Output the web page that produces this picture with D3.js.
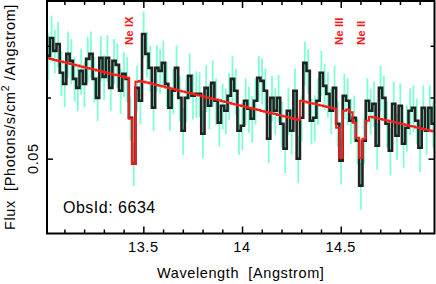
<!DOCTYPE html>
<html>
<head>
<meta charset="utf-8">
<script src="https://cdn.jsdelivr.net/npm/d3@7"></script>
<style>
body { margin: 0; background: #fff; }
svg { display: block; font-family: "Liberation Sans", Arial, sans-serif; }
svg text { white-space: pre; }
</style>
</head>
<body>
<div id="chart"></div>
<script>
// spectrum binning (Angstrom)
const binStart = 13.01;
const binWidth = 1 / 60;

// measured flux per bin
const flux = [
  0.06792, 0.07166, 0.06894, 0.07039, 0.06458, 0.06249, 0.06833, 0.06692, 0.06343, 0.06175,
  0.06496, 0.06249, 0.06732, 0.06833, 0.06343, 0.05994, 0.06752, 0.06381, 0.06752, 0.06175,
  0.06692, 0.06613, 0.06121, 0.06438, 0.06343, 0.05648, 0.04926, 0.06175, 0.05942, 0.07252,
  0.06833, 0.06554, 0.05819, 0.06554, 0.06496, 0.06652, 0.06249, 0.05819, 0.06121, 0.06554,
  0.05994, 0.05434, 0.05994, 0.06400, 0.06030, 0.06066, 0.06066, 0.05386, 0.06175, 0.05854,
  0.06268, 0.05942, 0.05565, 0.05854, 0.05767, 0.06030, 0.06343, 0.06121, 0.05434, 0.05515,
  0.05942, 0.05802, 0.05631, 0.05942, 0.06362, 0.06305, 0.06121, 0.05306, 0.05994, 0.05767,
  0.05994, 0.05548, 0.05150, 0.05767, 0.05434, 0.06121, 0.05000, 0.05648, 0.06652, 0.06496,
  0.05598, 0.05648, 0.05942, 0.06458, 0.06212, 0.06066, 0.05767, 0.06175, 0.05548, 0.04970,
  0.06030, 0.05942, 0.05598, 0.05648, 0.05275, 0.04614, 0.05275, 0.05942, 0.05767, 0.05889,
  0.05197, 0.06175, 0.05994, 0.05548, 0.05120, 0.05889, 0.05354, 0.05854, 0.05228, 0.05483,
  0.05767, 0.05819, 0.05598, 0.05166, 0.05819, 0.05434, 0.05819, 0.05548
];

// 1-sigma errors per bin
const fluxErr = [
  0.0047, 0.0049, 0.0045, 0.0048, 0.0043, 0.0042, 0.0047, 0.0045, 0.0042, 0.0041,
  0.0044, 0.0042, 0.0046, 0.0047, 0.0043, 0.0040, 0.0046, 0.0043, 0.0047, 0.0041,
  0.0045, 0.0044, 0.0041, 0.0043, 0.0043, 0.0037, 0.0032, 0.0042, 0.0040, 0.0050,
  0.0047, 0.0044, 0.0039, 0.0045, 0.0043, 0.0046, 0.0042, 0.0039, 0.0041, 0.0045,
  0.0041, 0.0038, 0.0042, 0.0044, 0.0041, 0.0042, 0.0041, 0.0038, 0.0043, 0.0040,
  0.0043, 0.0041, 0.0038, 0.0040, 0.0039, 0.0042, 0.0044, 0.0042, 0.0038, 0.0039,
  0.0041, 0.0040, 0.0039, 0.0041, 0.0043, 0.0043, 0.0042, 0.0037, 0.0041, 0.0040,
  0.0042, 0.0038, 0.0036, 0.0040, 0.0037, 0.0042, 0.0035, 0.0039, 0.0044, 0.0043,
  0.0038, 0.0039, 0.0041, 0.0044, 0.0043, 0.0041, 0.0039, 0.0042, 0.0038, 0.0034,
  0.0041, 0.0041, 0.0038, 0.0039, 0.0036, 0.0032, 0.0036, 0.0041, 0.0039, 0.0040,
  0.0036, 0.0042, 0.0041, 0.0038, 0.0036, 0.0040, 0.0037, 0.0040, 0.0036, 0.0038,
  0.0040, 0.0040, 0.0038, 0.0036, 0.0040, 0.0037, 0.0040, 0.0038
];

// fitted model per bin
const model = [
  0.06744, 0.06728, 0.06712, 0.06695, 0.06679, 0.06663, 0.06647, 0.06631, 0.06615, 0.06599,
  0.06583, 0.06567, 0.06551, 0.06536, 0.06520, 0.06504, 0.06489, 0.06473, 0.06457, 0.06442,
  0.06426, 0.06411, 0.06395, 0.06380, 0.06365, 0.05631, 0.04926, 0.06290, 0.06304, 0.06288,
  0.06273, 0.06258, 0.06243, 0.06228, 0.06213, 0.06198, 0.06183, 0.06168, 0.06153, 0.06138,
  0.06123, 0.06109, 0.06094, 0.06079, 0.06065, 0.06050, 0.06035, 0.06021, 0.06006, 0.05992,
  0.05977, 0.05963, 0.05949, 0.05934, 0.05920, 0.05906, 0.05891, 0.05877, 0.05863, 0.05849,
  0.05835, 0.05821, 0.05807, 0.05793, 0.05779, 0.05765, 0.05751, 0.05737, 0.05723, 0.05710,
  0.05696, 0.05682, 0.05668, 0.05655, 0.05641, 0.05627, 0.05614, 0.05940, 0.05927, 0.05913,
  0.05900, 0.05887, 0.05873, 0.05860, 0.05847, 0.05834, 0.05820, 0.05807, 0.05483, 0.05014,
  0.05767, 0.05790, 0.05740, 0.05565, 0.05322, 0.05014, 0.05306, 0.05598, 0.05664, 0.05652,
  0.05639, 0.05626, 0.05614, 0.05601, 0.05588, 0.05576, 0.05563, 0.05551, 0.05538, 0.05526,
  0.05513, 0.05501, 0.05488, 0.05476, 0.05463, 0.05451, 0.05439, 0.05426
];

const lineNames = ["Ne IX", "Ne III", "Ne II"];
const lineWaves = [13.447, 14.51, 14.625];

const xMajor = [13.5, 14, 14.5];
const xMinor = [13.1, 13.2, 13.3, 13.4, 13.6, 13.7, 13.8, 13.9, 14.1, 14.2, 14.3, 14.4, 14.6, 14.7, 14.8, 14.9];
const yMajor = [0.05];
const yMinor = [0.06, 0.07];

const obsLabel = "ObsId: 6634";
const xTitle = "Wavelength  [Angstrom]";

const width = 436, height = 284;
const frame = { left: 47, right: 434.5, top: 1, bottom: 233.5 };

const svg = d3.select("#chart").append("svg")
    .attr("width", width)
    .attr("height", height);

const x = d3.scaleLinear().domain([13.012, 14.975]).range([frame.left, frame.right]);
const y = d3.scaleLog().domain([0.04, 0.08]).range([frame.bottom, frame.top]);

svg.append("clipPath").attr("id", "plot-clip")
  .append("rect")
    .attr("x", frame.left).attr("y", frame.top)
    .attr("width", frame.right - frame.left)
    .attr("height", frame.bottom - frame.top);

const plot = svg.append("g").attr("clip-path", "url(#plot-clip)");

const bins = flux.map((v, i) => ({
    lo: binStart + i * binWidth,
    mid: binStart + (i + 0.5) * binWidth,
    v: v,
    err: fluxErr[i],
    m: model[i]
}));

// error bars
plot.selectAll(".err").data(bins).enter().append("line")
    .attr("class", "err")
    .attr("x1", d => x(d.mid)).attr("x2", d => x(d.mid))
    .attr("y1", d => y(d.v - d.err)).attr("y2", d => y(d.v + d.err))
    .attr("stroke", "#7fffd4")
    .attr("stroke-width", 1.8);

// step histogram helper
function stepPoints(key) {
    const pts = bins.map(d => [x(d.lo), y(d[key])]);
    const last = bins[bins.length - 1];
    pts.push([x(last.lo + binWidth), y(last[key])]);
    return pts;
}
const step = d3.line().curve(d3.curveStepAfter);

plot.append("path")
    .attr("d", step(stepPoints("v")))
    .attr("fill", "none")
    .attr("stroke", "#222")
    .attr("stroke-width", 2.6);

plot.append("path")
    .attr("d", step(stepPoints("m")))
    .attr("fill", "none")
    .attr("stroke", "#ff1a1a")
    .attr("stroke-width", 2);

// frame
svg.append("rect")
    .attr("x", frame.left).attr("y", frame.top)
    .attr("width", frame.right - frame.left)
    .attr("height", frame.bottom - frame.top)
    .attr("fill", "none")
    .attr("stroke", "#000")
    .attr("stroke-width", 2);

// ticks (inward, on all four sides)
function tickAxis(axis, values, size, tx, ty) {
    const g = svg.append("g")
        .attr("transform", `translate(${tx},${ty})`)
        .call(axis.tickValues(values).tickSize(-size).tickFormat(""));
    g.select(".domain").remove();
    g.selectAll(".tick line").attr("stroke", "#000").attr("stroke-width", 1.5);
}
tickAxis(d3.axisBottom(x), xMinor, 4, 0, frame.bottom);
tickAxis(d3.axisBottom(x), xMajor, 7, 0, frame.bottom);
tickAxis(d3.axisTop(x), xMinor, 4, 0, frame.top);
tickAxis(d3.axisTop(x), xMajor, 7, 0, frame.top);
tickAxis(d3.axisLeft(y), yMinor, 4, frame.left, 0);
tickAxis(d3.axisLeft(y), yMajor, 6, frame.left, 0);
tickAxis(d3.axisRight(y), yMinor, 4, frame.right, 0);
tickAxis(d3.axisRight(y), yMajor, 6, frame.right, 0);

// tick labels
svg.selectAll(".xlab").data(xMajor).enter().append("text")
    .attr("x", d => x(d))
    .attr("y", 252)
    .attr("text-anchor", "middle")
    .style("font-size", "14.5px")
    .style("letter-spacing", "0.6px")
    .text(d => d);

svg.selectAll(".ylab").data(yMajor).enter().append("text")
    .attr("transform", d => `translate(38,${y(d)}) rotate(-90)`)
    .attr("text-anchor", "middle")
    .style("font-size", "14.5px")
    .style("letter-spacing", "0.6px")
    .text(d => d3.format(".2f")(d));

// axis titles
svg.append("text")
    .attr("x", (frame.left + frame.right) / 2)
    .attr("y", 278)
    .attr("text-anchor", "middle")
    .style("font-size", "14.5px")
    .style("letter-spacing", "0.6px")
    .text(xTitle);

const yTitle = svg.append("text")
    .attr("transform", "translate(15,117) rotate(-90)")
    .attr("text-anchor", "middle")
    .style("font-size", "14.5px")
    .style("letter-spacing", "0.6px");
yTitle.append("tspan").text("Flux  [Photons/s/cm");
yTitle.append("tspan").attr("dy", -6).style("font-size", "10.5px").text("2");
yTitle.append("tspan").attr("dy", 6).text(" /Angstrom]");

// line identifications
svg.selectAll(".ion").data(lineNames).enter().append("text")
    .attr("transform", (d, i) => `translate(${x(lineWaves[i])},45) rotate(-90)`)
    .attr("fill", "#ff1a1a")
    .style("font-size", "11.5px")
    .style("font-weight", "bold")
    .text(d => d);

svg.append("text")
    .attr("x", 63)
    .attr("y", 213)
    .style("font-size", "16px")
    .style("letter-spacing", "0.5px")
    .text(obsLabel);
</script>
</body>
</html>
